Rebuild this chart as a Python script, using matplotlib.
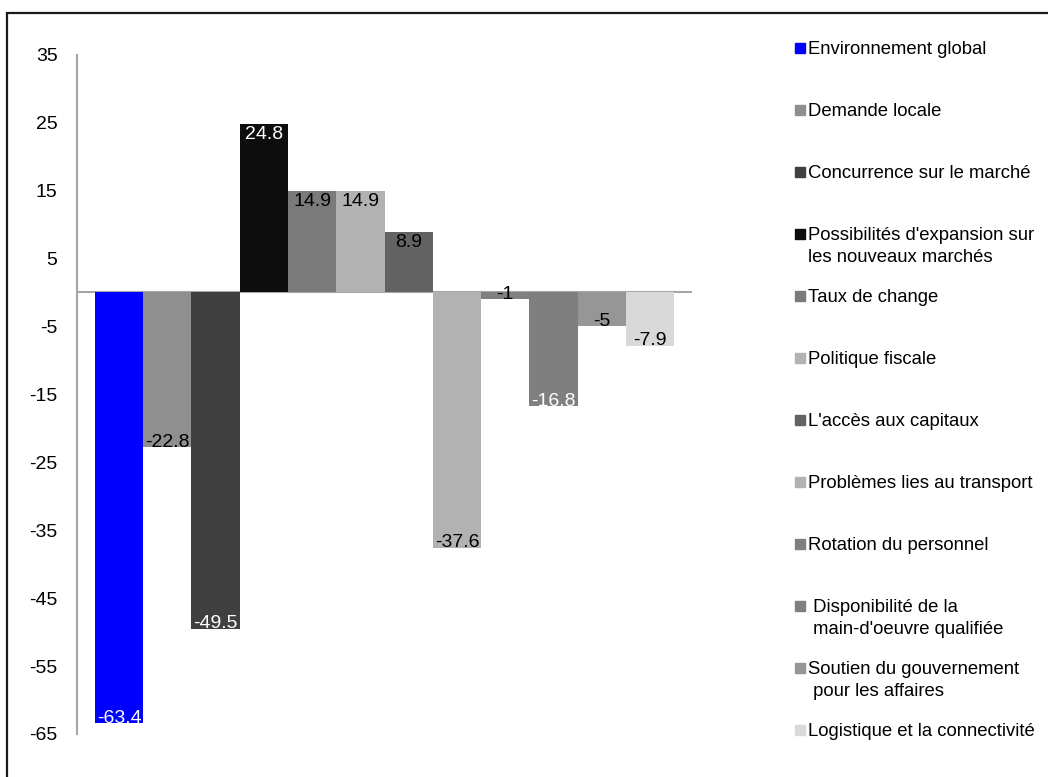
import matplotlib.pyplot as plt
from matplotlib.patches import Rectangle

plt.rcParams['font.family'] = ['Liberation Sans', 'DejaVu Sans']

facteurs = [
    "Environnement global",
    "Demande locale",
    "Concurrence sur le marché",
    "Possibilités d'expansion sur\nles nouveaux marchés",
    "Taux de change",
    "Politique fiscale",
    "L'accès aux capitaux",
    "Problèmes lies au transport",
    "Rotation du personnel",
    " Disponibilité de la\n main-d'oeuvre qualifiée",
    "Soutien du gouvernement\n pour les affaires",
    "Logistique et la connectivité",
]
valeurs = [-63.4, -22.8, -49.5, 24.8, 14.9, 14.9, 8.9, -37.6, -1, -16.8, -5, -7.9]
couleurs = ['#0000ff', '#8f8f8f', '#404040', '#0d0d0d', '#7a7a7a', '#b2b2b2',
            '#636363', '#b2b2b2', '#808080', '#7f7f7f', '#969696', '#d9d9d9']
couleurs_texte = ['white', 'black', 'white', 'white', 'black', 'black',
                  'black', 'black', 'black', 'white', 'black', 'black']
graduations = [35, 25, 15, 5, -5, -15, -25, -35, -45, -55, -65]

fig = plt.figure(figsize=(10.48, 7.77), dpi=100)
ax = fig.add_axes([77 / 1048, 43 / 777, 615 / 1048, 679.5 / 777])

x = list(range(len(valeurs)))
ax.bar(x, valeurs, width=1.0, color=couleurs, linewidth=0)

for xi, v, c in zip(x, valeurs, couleurs_texte):
    if v >= 0:
        ax.text(xi, v - 0.3, f"{v:g}", ha='center', va='top', color=c, fontsize=14)
    else:
        ax.text(xi, v - 0.5, f"{v:g}", ha='center', va='bottom', color=c, fontsize=14)

ax.set_xlim(-0.873, 11.873)
ax.set_ylim(-65, 35)
ax.set_yticks(graduations)
ax.set_yticklabels([str(g) for g in graduations], fontsize=14)
ax.tick_params(axis='y', length=0, pad=14)
ax.set_xticks([])
ax.axhline(0, color='#a6a6a6', linewidth=1.5, zorder=0)
for s in ['top', 'right', 'bottom']:
    ax.spines[s].set_visible(False)
ax.spines['left'].set_color('#a6a6a6')
ax.spines['left'].set_linewidth(1.5)

# legend on the right, one slot per factor
y0 = 1 - 48 / 777
pas = 62.0 / 777
for i, (nom, c) in enumerate(zip(facteurs, couleurs)):
    y = y0 - i * pas
    fig.patches.append(Rectangle((795 / 1048, y - 5 / 777), 10 / 1048, 10 / 777,
                                 transform=fig.transFigure, color=c))
    fig.text(808 / 1048, y + 7 / 777, nom, ha='left', va='top', fontsize=13.3,
             linespacing=1.4)

# outer frame
fig.patches.append(Rectangle((7 / 1048, -0.05), 1.1, 1.05 - 13 / 777,
                             transform=fig.transFigure, fill=False,
                             edgecolor='#1a1a1a', linewidth=1.6))

fig.savefig('out.png', dpi=100)
